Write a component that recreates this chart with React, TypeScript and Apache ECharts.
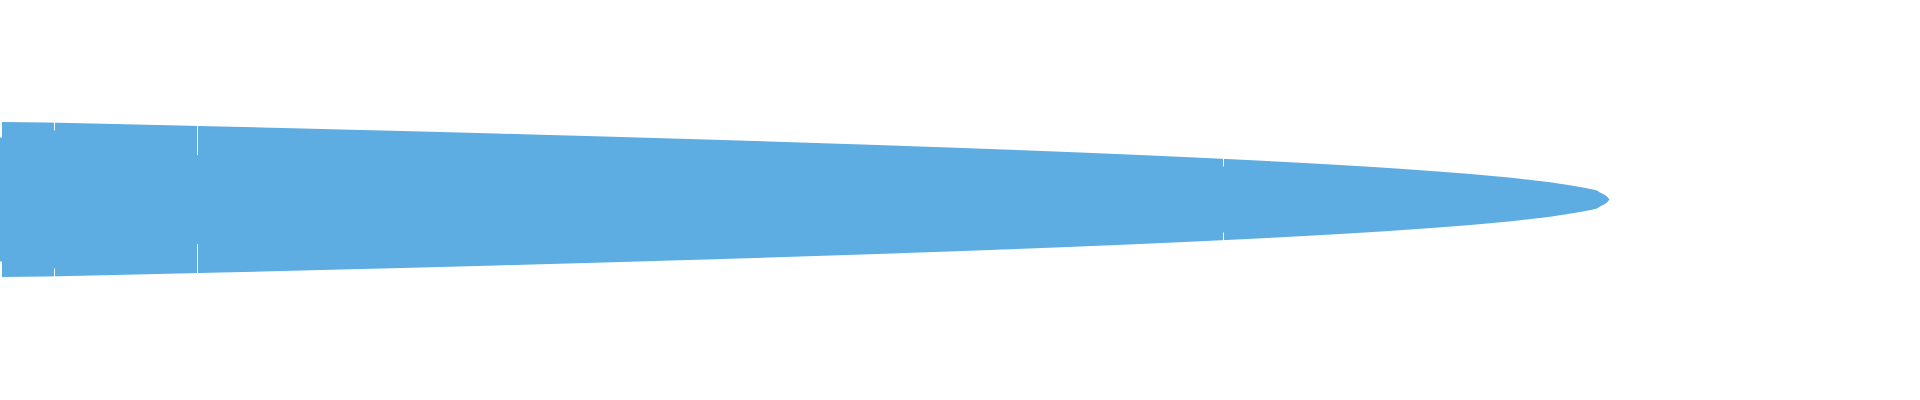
import React, { useEffect, useRef } from 'react';
import * as echarts from 'echarts';

// positions along the shape (left to right) and the half thickness at each one
const positions = [
  0, 47, 92, 136, 179, 220, 262, 302, 341, 382, 421, 459, 496, 532, 568, 604,
  638, 671, 706, 738, 769, 800, 831, 862, 892, 919, 949, 976, 1003, 1029, 1055,
  1080, 1104, 1128, 1151, 1173, 1195, 1216, 1237, 1257, 1276, 1295, 1313, 1331,
  1348, 1365, 1381, 1396, 1410, 1424, 1438, 1451, 1464, 1476, 1487, 1498, 1509,
  1518, 1527, 1535, 1544, 1552, 1558, 1565, 1571, 1577, 1583, 1588, 1593, 1597,
  1600, 1604, 1607, 1609.5,
];
const halfWidths = [
  77.5, 77, 76, 75, 74, 73, 72, 71, 70, 69, 68, 67, 66, 65, 64, 63,
  62, 61, 60, 59, 58, 57, 56, 55, 54, 53, 52, 51, 50, 49, 48,
  47, 46, 45, 44, 43, 42, 41, 40, 39, 38, 37, 36, 35,
  34, 33, 32, 31, 30, 29, 28, 27, 26, 25, 24, 23, 22,
  21, 20, 19, 18, 17, 16, 15, 14, 13, 12, 11, 10, 9,
  7, 5, 3, 0,
];
// thin white seams near the edges: position and half height of the part they leave solid
const seamPositions = [1, 54.5, 197.5, 1223.5];
const seamInner = [62, 69, 44.5, 33];
const seamWidths = [2, 1, 1, 1];

const CENTER = 200.5;
const COLOR = '#5dade2';

const App: React.FC = () => {
  const chartRef = useRef<HTMLDivElement>(null);

  useEffect(() => {
    document.body.style.margin = '0';
    if (!chartRef.current) return;
    const myChart = echarts.init(chartRef.current, undefined, { renderer: 'svg' });
    // value first so that the stack runs along y
    const lower = positions.map((x, i) => [CENTER - halfWidths[i], x]);
    const band = positions.map((x, i) => [halfWidths[i] * 2, x]);
    const seams: any[] = [];
    seamPositions.forEach((x, i) => {
      const style = { color: '#ffffff', width: seamWidths[i], opacity: 1 };
      seams.push({ coords: [[x, CENTER + seamInner[i]], [x, CENTER + 80]], lineStyle: style });
      seams.push({ coords: [[x, CENTER - seamInner[i]], [x, CENTER - 80]], lineStyle: style });
    });
    const hidden = {
      axisLine: { show: false },
      axisTick: { show: false },
      axisLabel: { show: false },
      splitLine: { show: false },
    };
    const option = {
      animation: false,
      grid: { left: 0, right: 0, top: 0, bottom: 0 },
      xAxis: { type: 'value', min: 0, max: 1920, ...hidden },
      yAxis: { type: 'value', min: 0, max: 400, ...hidden },
      series: [
        {
          name: 'base',
          type: 'line',
          stack: 'shape',
          data: lower,
          encode: { x: 1, y: 0 },
          showSymbol: false,
          silent: true,
          lineStyle: { width: 0, opacity: 0 },
        },
        {
          name: 'shape',
          type: 'line',
          stack: 'shape',
          data: band,
          encode: { x: 1, y: 0 },
          showSymbol: false,
          lineStyle: { width: 0, opacity: 0 },
          areaStyle: { color: COLOR, opacity: 1 },
        },
        {
          name: 'seams',
          type: 'lines',
          coordinateSystem: 'cartesian2d',
          silent: true,
          z: 5,
          lineStyle: { color: '#ffffff', width: 1, opacity: 1 },
          data: seams,
        },
      ],
    };
    myChart.setOption(option);
    return () => { myChart.dispose(); };
  }, []);

  return (
    <div
      ref={chartRef}
      style={{ position: 'fixed', left: 0, top: 0, width: '1920px', height: '400px' }}
    />
  );
};

export default App;
